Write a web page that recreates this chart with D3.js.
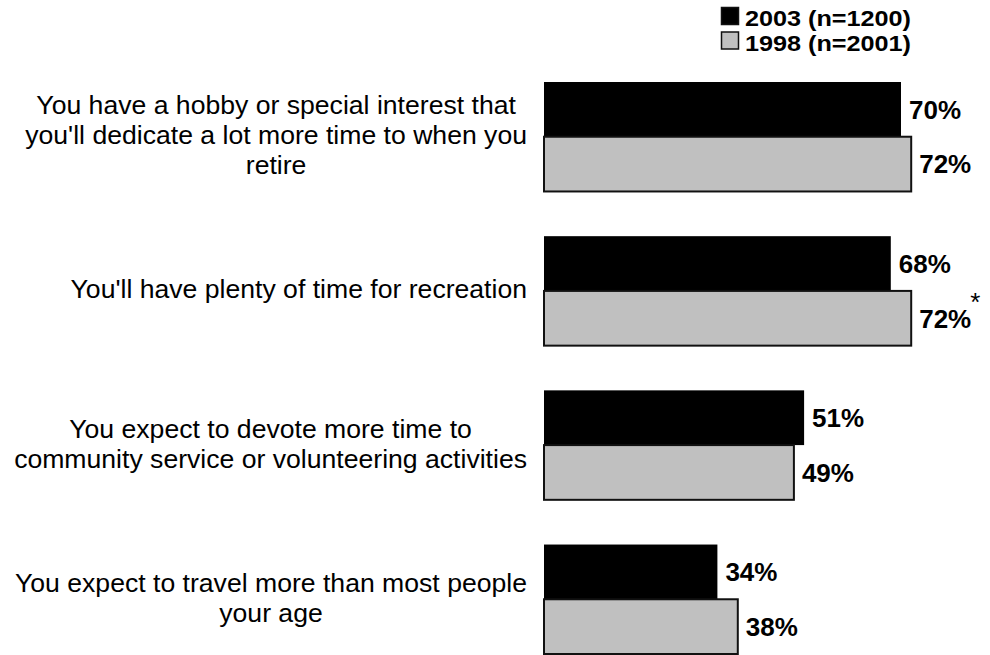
<!DOCTYPE html>
<html>
<head>
<meta charset="utf-8">
<script src="https://cdn.jsdelivr.net/npm/d3@7"></script>
<style>
  html, body { margin: 0; padding: 0; background: #fff; }
  svg { display: block; font-family: "Liberation Sans", Arial, sans-serif; }
</style>
</head>
<body>
<svg id="chart" width="990" height="655"></svg>
<script>
// Retirement expectations, share agreeing, 2003 vs 1998
const categories = [
  ["You have a hobby or special interest that", "you'll dedicate a lot more time to when you", "retire"],
  ["You'll have plenty of time for recreation"],
  ["You expect to devote more time to", "community service or volunteering activities"],
  ["You expect to travel more than most people", "your age"]
];
const seriesNames = ["2003 (n=1200)", "1998 (n=2001)"];
const values2003 = [70, 68, 51, 34];
const values1998 = [72, 72, 49, 38];
const notes1998 = ["", "*", "", ""];

const colors = ["#000000", "#c0c0c0"];

const svg = d3.select("#chart");
const keys = categories.map((c, i) => i);

const x = d3.scaleLinear().domain([0, 100]).range([544, 1054]);
const y = d3.scaleBand().domain(keys).range([82, 654]).paddingInner(0.29).paddingOuter(0);
const ySub = d3.scaleBand().domain([0, 1]).range([0, y.bandwidth()]);

const rows = keys.map(i => ({
  i,
  bars: [
    { s: 0, v: values2003[i], note: "" },
    { s: 1, v: values1998[i], note: notes1998[i] }
  ]
}));

const group = svg.selectAll("g.grp").data(rows).join("g")
  .attr("class", "grp")
  .attr("transform", d => `translate(0,${y(d.i)})`);

// bars
group.selectAll("rect").data(d => d.bars).join("rect")
  .attr("x", x(0))
  .attr("y", b => ySub(b.s))
  .attr("width", b => x(b.v) - x(0))
  .attr("height", ySub.bandwidth())
  .attr("fill", b => colors[b.s])
  .attr("stroke", b => b.s === 1 ? "#111" : "none")
  .attr("stroke-width", 2);

// value labels, with significance marker where present
group.selectAll("text.val").data(d => d.bars).join("text")
  .attr("class", "val")
  .attr("x", b => x(b.v) + 8)
  .attr("y", b => ySub(b.s) + ySub.bandwidth() / 2)
  .attr("dy", "0.36em")
  .attr("font-size", 26)
  .attr("font-weight", "bold")
  .attr("fill", "#000")
  .text(b => b.v + "%")
  .each(function(b) {
    if (b.note) {
      const w = this.getComputedTextLength();
      d3.select(this.parentNode).append("text")
        .attr("class", "note")
        .attr("x", x(b.v) + 8 + w - 1)
        .attr("y", ySub(b.s) + 20)
        .attr("font-size", 26)
        .attr("fill", "#000")
        .text(b.note);
    }
  });

// category labels: each block centred on itself, right edge aligned beside the bars
const labelRight = 527;
const lineH = 30;
group.each(function(d) {
  const g = d3.select(this);
  const lines = categories[d.i];
  const t = g.append("g").attr("class", "cat");
  const texts = t.selectAll("text").data(lines).join("text")
    .attr("font-size", 26.6)
    .attr("fill", "#000")
    .attr("text-anchor", "middle")
    .attr("dy", "0.36em")
    .attr("y", (l, k) => y.bandwidth() / 2 - 2 + (k - (lines.length - 1) / 2) * lineH)
    .text(l => l);
  let maxW = 0;
  texts.each(function() { maxW = Math.max(maxW, this.getComputedTextLength()); });
  texts.attr("x", labelRight - maxW / 2);
});

// legend
const legend = svg.append("g").attr("class", "legend");
const legItems = legend.selectAll("g").data(seriesNames).join("g")
  .attr("transform", (n, k) => `translate(721,${7 + k * 24.5})`);
legItems.append("rect")
  .attr("x", 0.5).attr("y", 0.5)
  .attr("width", 17).attr("height", 17)
  .attr("fill", (n, k) => colors[k])
  .attr("stroke", "#111")
  .attr("stroke-width", 1.5);
legItems.append("text")
  .attr("x", 24)
  .attr("y", 19)
  .attr("font-size", 22)
  .attr("font-weight", "bold")
  .attr("fill", "#000")
  .attr("textLength", 166)
  .attr("lengthAdjust", "spacingAndGlyphs")
  .text(n => n);
</script>
</body>
</html>
